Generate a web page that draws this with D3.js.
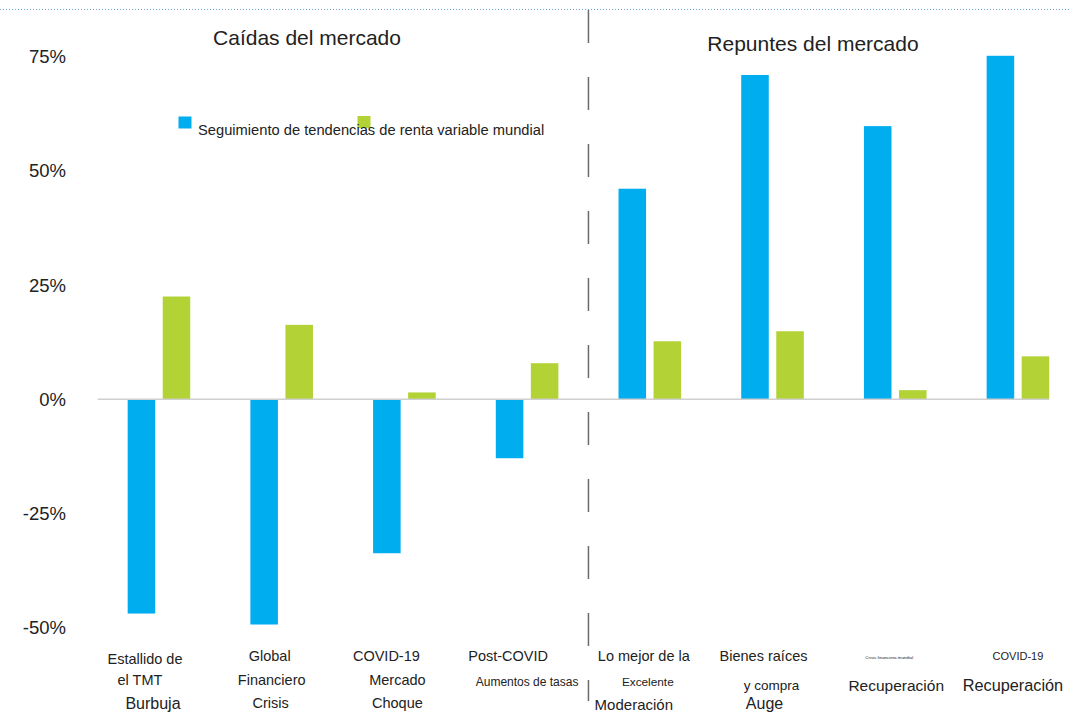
<!DOCTYPE html>
<html>
<head>
<meta charset="utf-8">
<script src="https://cdn.jsdelivr.net/npm/d3@7"></script>
<style>
  body { margin: 0; background: #fff; }
  svg { display: block; font-family: "Liberation Sans", Arial, sans-serif; }
  .tick text { fill: #222; }
</style>
</head>
<body>
<svg class="chart" width="1069" height="713"></svg>
<script>
// data
var categories = ['tmt', 'gfc', 'covidCrash', 'postCovid', 'moderation', 'housing', 'gfcRecovery', 'covidRecovery'];
var categoryLines = [
  ['Estallido de', 'el TMT', 'Burbuja'],
  ['Global', 'Financiero', 'Crisis'],
  ['COVID-19', 'Mercado', 'Choque'],
  ['Post-COVID', 'Aumentos de tasas'],
  ['Lo mejor de la', 'Excelente', 'Moderación'],
  ['Bienes raíces', 'y compra', 'Auge'],
  ['Crisis financiera mundial', 'Recuperación'],
  ['COVID-19', 'Recuperación']
];
var seriesKeys = ['trend', 'equity'];
var trendValues = [-46.9, -49.3, -33.7, -12.9, 46.1, 71.0, 59.8, 75.2];
var equityValues = [22.5, 16.3, 1.5, 7.9, 12.7, 14.9, 2.0, 9.4];
var yTicks = [-50, -25, 0, 25, 50, 75];
var panelTitles = ['Caídas del mercado', 'Repuntes del mercado'];
var legendText = 'Seguimiento de tendencias de renta variable mundial';

// label layout: [dx from group centre, centre y, font size] per line
var lineLayout = [
  [[-14, 659, 14.5], [-19, 680, 14.5], [-6, 703, 16]],
  [[-12, 656, 14.5], [-10, 680, 14.5], [-11, 703, 14.5]],
  [[-18, 656, 14.5], [-7, 680, 14.5], [-7, 703, 14.5]],
  [[-19, 656, 14.5], [0, 682, 12]],
  [[-6, 656, 14.5], [-2, 682, 11.8], [-16, 704, 15]],
  [[-9, 656, 14.5], [-1, 685, 13.5], [-8, 703, 16]],
  [[-6, 657, 4.4], [1, 685, 15.5]],
  [[0, 656, 11], [-5, 685, 16.3]]
];

var colors = {trend: '#00adef', equity: '#b2d235'};

var svg = d3.select('.chart');

var rows = categories.map(function(c, i) {
  return {key: c, trend: trendValues[i], equity: equityValues[i], lines: categoryLines[i], layout: lineLayout[i]};
});

var x = d3.scaleBand()
  .domain(categories)
  .range([97.6, 1079.3])
  .paddingInner(0.49)
  .paddingOuter(0.245);

var xSeries = d3.scaleBand()
  .domain(seriesKeys)
  .range([0, x.bandwidth()])
  .paddingInner(0.214);

var y = d3.scaleLinear()
  .domain([-50, 75])
  .range([627.7, 56.7]);

// dotted rule on top
svg.append('line')
  .attr('x1', 0).attr('x2', 1069)
  .attr('y1', 9.5).attr('y2', 9.5)
  .attr('stroke', '#5ea8cf')
  .attr('stroke-width', 1)
  .attr('stroke-dasharray', '1,2');

// y axis labels only
var yAxis = d3.axisLeft(y)
  .tickValues(yTicks)
  .tickSize(0)
  .tickPadding(0)
  .tickFormat(function(d) { return d + '%'; });

svg.append('g')
  .attr('class', 'y axis')
  .attr('transform', 'translate(66,0)')
  .call(yAxis)
  .call(function(g) { g.select('.domain').remove(); })
  .selectAll('text')
  .attr('font-size', 18.5)
  .attr('font-family', '"Liberation Sans", Arial, sans-serif');

// divider between drops and rebounds
var divX = (x(categories[3]) + x.bandwidth() + x(categories[4])) / 2;
svg.append('line')
  .attr('x1', divX).attr('x2', divX)
  .attr('y1', 10).attr('y2', 701)
  .attr('stroke', '#6b6b6b')
  .attr('stroke-width', 1.5)
  .attr('stroke-dasharray', '33,34');

// bars
var groups = svg.append('g').attr('class', 'bars')
  .selectAll('g')
  .data(rows)
  .enter()
  .append('g')
  .attr('transform', function(d) { return 'translate(' + x(d.key) + ',0)'; });

groups.selectAll('rect')
  .data(function(d) { return seriesKeys.map(function(k) { return {key: k, value: d[k]}; }); })
  .enter()
  .append('rect')
  .attr('x', function(d) { return xSeries(d.key); })
  .attr('width', xSeries.bandwidth())
  .attr('y', function(d) { return y(Math.max(0, d.value)); })
  .attr('height', function(d) { return Math.abs(y(d.value) - y(0)); })
  .attr('fill', function(d) { return colors[d.key]; });

// zero line
svg.append('line')
  .attr('x1', x.range()[0])
  .attr('x2', x(categories[categories.length - 1]) + x.bandwidth())
  .attr('y1', y(0)).attr('y2', y(0))
  .attr('stroke', '#cfcfcf')
  .attr('stroke-width', 1.5);

// category labels
groups.each(function(d) {
  var cx = x.bandwidth() / 2;
  d3.select(this).selectAll('text')
    .data(d.lines.map(function(t, i) { return {text: t, lay: d.layout[i]}; }))
    .enter()
    .append('text')
    .attr('x', function(l) { return cx + l.lay[0]; })
    .attr('y', function(l) { return l.lay[1]; })
    .attr('dominant-baseline', 'central')
    .attr('text-anchor', 'middle')
    .attr('font-size', function(l) { return l.lay[2]; })
    .attr('fill', '#222')
    .text(function(l) { return l.text; });
});

// panel titles
svg.append('text')
  .attr('x', 307).attr('y', 45)
  .attr('text-anchor', 'middle')
  .attr('font-size', 21)
  .attr('fill', '#222')
  .text(panelTitles[0]);

svg.append('text')
  .attr('x', 813).attr('y', 51)
  .attr('text-anchor', 'middle')
  .attr('font-size', 21)
  .attr('fill', '#222')
  .text(panelTitles[1]);

// legend (the green key sits under the text, as in the source)
var legend = svg.append('g').attr('class', 'legend');
legend.append('rect')
  .attr('x', 178.5).attr('y', 116.5)
  .attr('width', 13).attr('height', 12)
  .attr('fill', colors.trend);
legend.append('rect')
  .attr('x', 357.5).attr('y', 116)
  .attr('width', 13).attr('height', 12)
  .attr('fill', colors.equity);
legend.append('text')
  .attr('x', 198).attr('y', 134.5)
  .attr('font-size', 14.7)
  .attr('fill', '#222')
  .text(legendText);
</script>
</body>
</html>
